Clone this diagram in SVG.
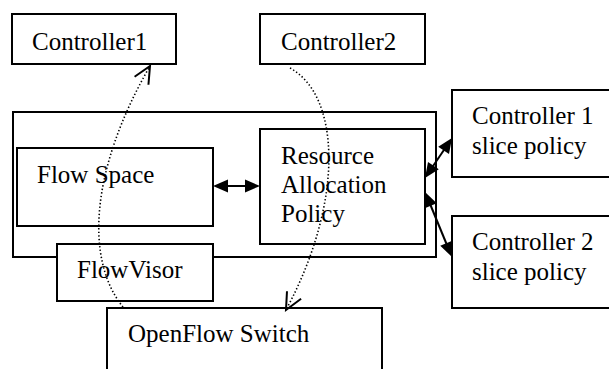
<svg xmlns="http://www.w3.org/2000/svg" width="609" height="369" viewBox="0 0 609 369">
<rect width="609" height="369" fill="#fff"/>
<g id="flowvisor-frame"><rect x="13" y="112" width="423" height="145" fill="none" stroke="#000" stroke-width="2"/></g>
<g id="controller1"><rect x="12" y="14" width="164" height="50" fill="#fff" stroke="#000" stroke-width="2"/><text x="32" y="50" font-family="Liberation Serif" font-size="25">Controller1</text></g>
<g id="controller2"><rect x="260" y="14" width="165" height="50" fill="#fff" stroke="#000" stroke-width="2"/><text x="281" y="50" font-family="Liberation Serif" font-size="25">Controller2</text></g>
<g id="flowspace"><rect x="17" y="148" width="196" height="78" fill="#fff" stroke="#000" stroke-width="2"/><text x="37" y="183" font-family="Liberation Serif" font-size="25">Flow Space</text></g>
<g id="resource"><rect x="260" y="129" width="165" height="115" fill="#fff" stroke="#000" stroke-width="2"/><text x="281" y="164" font-family="Liberation Serif" font-size="25">Resource</text><text x="281" y="193" font-family="Liberation Serif" font-size="25">Allocation</text><text x="281" y="222" font-family="Liberation Serif" font-size="25">Policy</text></g>
<g id="flowvisor"><rect x="57" y="244" width="156" height="57" fill="#fff" stroke="#000" stroke-width="2"/><text x="77" y="278" font-family="Liberation Serif" font-size="25">FlowVisor</text></g>
<g id="switch"><rect x="107" y="308" width="275" height="80" fill="#fff" stroke="#000" stroke-width="2"/><text x="128" y="342" font-family="Liberation Serif" font-size="25">OpenFlow Switch</text></g>
<g id="c1policy"><rect x="452" y="90" width="170" height="87" fill="#fff" stroke="#000" stroke-width="2"/><text x="472" y="124" font-family="Liberation Serif" font-size="25">Controller 1</text><text x="472" y="154" font-family="Liberation Serif" font-size="25">slice policy</text></g>
<g id="c2policy"><rect x="452" y="216" width="170" height="92" fill="#fff" stroke="#000" stroke-width="2"/><text x="472" y="250" font-family="Liberation Serif" font-size="25">Controller 2</text><text x="472" y="280" font-family="Liberation Serif" font-size="25">slice policy</text></g>
<g id="connectors" stroke="#000">
<line stroke-width="2" x1="220" y1="186" x2="253" y2="186"/>
<polygon fill="#000" stroke="none" points="213,186 228,179.5 228,192.5"/>
<polygon fill="#000" stroke="none" points="260,186 245,179.5 245,192.5"/>
<line stroke-width="2" x1="429" y1="172" x2="448" y2="144"/>
<polygon fill="#000" stroke="none" points="452,138 449,154.07 438.22,146.79"/>
<polygon fill="#000" stroke="none" points="425,178 438.78,169.21 428,161.93"/>
<line stroke-width="2" x1="428" y1="199" x2="449" y2="250"/>
<polygon fill="#000" stroke="none" points="452,257 440.25,245.64 452.25,240.66"/>
<polygon fill="#000" stroke="none" points="425,192 424.75,208.34 436.75,203.36"/>
<path fill="none" stroke-width="1.6" stroke-dasharray="1.4 2.2" d="M123,307 C85,260 90,170 150,66"/>
<polyline fill="none" stroke-width="2" points="148.44,84.73 150,66 134.58,76.73"/>
<path fill="none" stroke-width="1.6" stroke-dasharray="1.4 2.2" d="M290,68 C340,95 345,200 286,310"/>
<polyline fill="none" stroke-width="2" points="286.99,291.24 286,310 301.09,298.8"/>
</g>
</svg>
